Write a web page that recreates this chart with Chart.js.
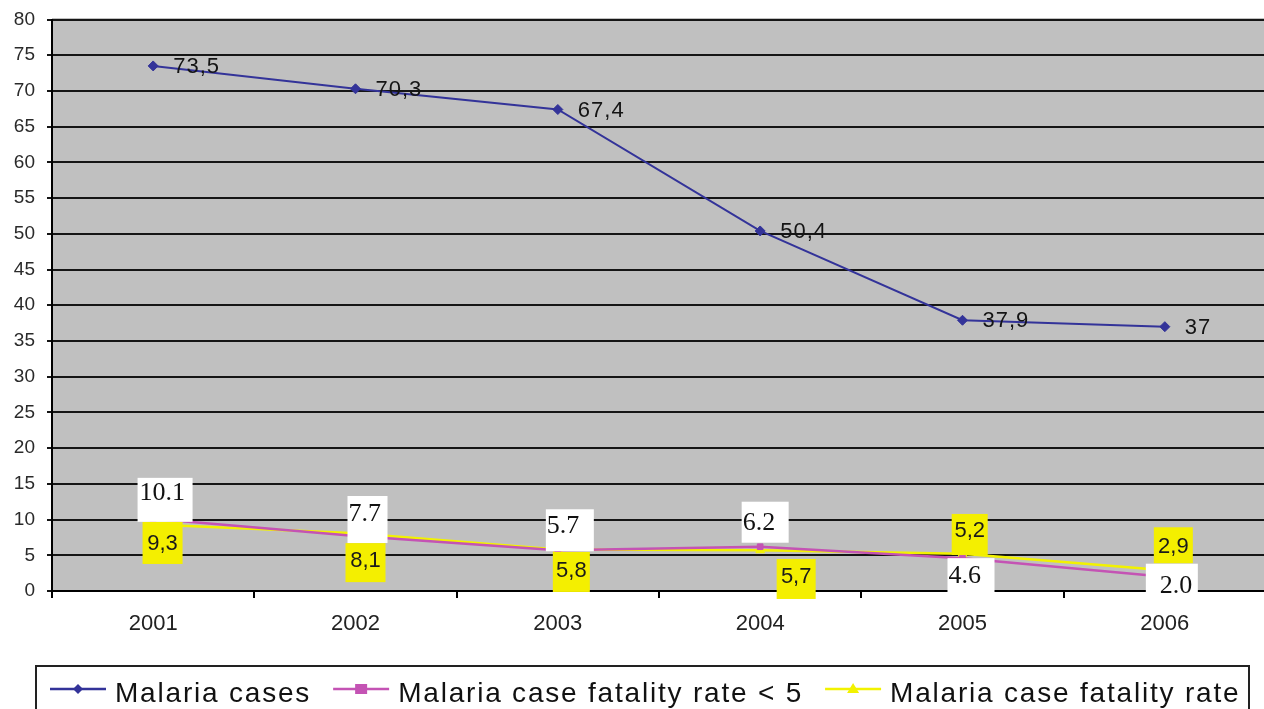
<!DOCTYPE html>
<html>
<head>
<meta charset="utf-8">
<script src="https://cdn.jsdelivr.net/npm/chart.js@4.4.1/dist/chart.umd.min.js"></script>
<style>
  html, body { margin: 0; padding: 0; background: #ffffff; overflow: hidden; }
  #wrap { width: 1272px; height: 709px; }
</style>
</head>
<body>
<div id="wrap"><canvas id="c" width="1272" height="709"></canvas></div>
<script>
// Malaria indicators, 2001-2006
const years = ['2001', '2002', '2003', '2004', '2005', '2006'];
const malariaCases = [73.5, 70.3, 67.4, 50.4, 37.9, 37];
const fatalityUnder5 = [10.1, 7.7, 5.7, 6.2, 4.6, 2.0];
const fatalityRate = [9.3, 8.1, 5.8, 5.7, 5.2, 2.9];
const yMin = 0, yMax = 80, yStep = 5;

const seriesNames = ['Malaria cases', 'Malaria case fatality rate < 5', 'Malaria case fatality rate'];
const BLUE = '#333399', PINK = '#c453b4', YELLOW = '#f2f200';

// Label placement relative to each point: [boxDx, boxDy, boxW, boxH, textDx, baselineDy]
const under5Placement = [
  [-15.6, -41, 55, 44, -13.6, -19],
  [-8, -40, 40, 47, -7, -15],
  [-12, -41, 48, 42, -11, -17],
  [-18.5, -45, 47, 41, -17.5, -17],
  [-15, 0, 47, 42, -14, 25],
  [-19, -13, 52, 46, -5, 16]
];
// Boxes for the overall rate: [boxDx, boxDy, boxW, boxH, baselineDy]
const ratePlacement = [
  [-10.6, -2.6, 40, 42, 25],
  [-10, 10, 40, 39, 34],
  [-5, 2.4, 37, 40, 27.4],
  [16.5, 8.7, 39, 40, 32.7],
  [-10.8, -39.9, 36, 41, -17],
  [-11, -43, 39, 36, -17]
];

const fmtComma = v => String(v).replace('.', ',');
const fmtDot1 = v => v.toFixed(1);
const fmtComma1 = v => v.toFixed(1).replace('.', ',');

// Gray plotting area behind the grid
const plotBackground = {
  id: 'plotBackground',
  beforeDraw(chart) {
    const { ctx, chartArea: a } = chart;
    ctx.save();
    ctx.fillStyle = '#c0c0c0';
    ctx.fillRect(a.left, a.top - 1.5, a.right - a.left, a.bottom - a.top + 1.5);
    ctx.restore();
  }
};

// Value labels next to the points
const valueLabels = {
  id: 'valueLabels',
  afterDraw(chart) {
    const ctx = chart.ctx;
    ctx.save();

    // Malaria cases: plain text to the right of each marker
    const m0 = chart.getDatasetMeta(0);
    ctx.font = '22px "Liberation Sans", Arial, sans-serif';
    ctx.letterSpacing = '1px';
    ctx.fillStyle = '#141414';
    ctx.textAlign = 'left';
    ctx.textBaseline = 'middle';
    m0.data.forEach((pt, i) => {
      ctx.fillText(fmtComma(malariaCases[i]), pt.x + 20, pt.y + 1);
    });

    // Overall fatality rate: yellow boxes
    const m2 = chart.getDatasetMeta(2);
    ctx.font = '22px "Liberation Sans", Arial, sans-serif';
    ctx.letterSpacing = '0px';
    ctx.textAlign = 'center';
    ctx.textBaseline = 'alphabetic';
    m2.data.forEach((pt, i) => {
      const [bx, by, bw, bh, ty] = ratePlacement[i];
      ctx.fillStyle = '#f4ef00';
      ctx.fillRect(pt.x + bx, pt.y + by, bw, bh);
      ctx.fillStyle = '#1a1a1a';
      ctx.fillText(fmtComma1(fatalityRate[i]), pt.x + bx + bw / 2, pt.y + ty);
    });

    // Under-5 fatality rate: white boxes, serif text
    const m1 = chart.getDatasetMeta(1);
    ctx.font = '26px "Liberation Serif", "Times New Roman", serif';
    ctx.textAlign = 'left';
    m1.data.forEach((pt, i) => {
      const [bx, by, bw, bh, tx, ty] = under5Placement[i];
      ctx.fillStyle = '#ffffff';
      ctx.fillRect(pt.x + bx, pt.y + by, bw, bh);
      ctx.fillStyle = '#111111';
      ctx.fillText(fmtDot1(fatalityUnder5[i]), pt.x + tx, pt.y + ty);
    });
    ctx.restore();
  }
};

// Boxed legend along the bottom edge
const boxedLegend = {
  id: 'boxedLegend',
  afterDraw(chart) {
    const ctx = chart.ctx;
    const symY = 689, baseY = 702;
    ctx.save();
    ctx.strokeStyle = '#222222';
    ctx.lineWidth = 2;
    ctx.strokeRect(36, 666, 1249 - 36, 60);

    ctx.font = '28px "Liberation Sans", Arial, sans-serif';
    ctx.letterSpacing = '1.8px';
    ctx.textBaseline = 'alphabetic';
    ctx.textAlign = 'left';
    let x = 50;
    chart.data.datasets.forEach(ds => {
      const w = 56;
      ctx.strokeStyle = ds.borderColor;
      ctx.lineWidth = 2.5;
      ctx.beginPath();
      ctx.moveTo(x, symY);
      ctx.lineTo(x + w, symY);
      ctx.stroke();
      const cx = x + w / 2;
      ctx.fillStyle = ds.borderColor;
      ctx.beginPath();
      if (ds.pointStyle === 'rectRot') {
        ctx.moveTo(cx, symY - 5); ctx.lineTo(cx + 5, symY);
        ctx.lineTo(cx, symY + 5); ctx.lineTo(cx - 5, symY);
      } else if (ds.pointStyle === 'rect') {
        ctx.rect(cx - 6, symY - 5, 12, 10);
      } else {
        ctx.moveTo(cx, symY - 6); ctx.lineTo(cx + 6, symY + 4); ctx.lineTo(cx - 6, symY + 4);
      }
      ctx.closePath();
      ctx.fill();
      ctx.fillStyle = '#111111';
      ctx.fillText(ds.label, x + w + 9, baseY);
      x += w + 9 + ctx.measureText(ds.label).width + 22;
    });
    ctx.restore();
  }
};

new Chart(document.getElementById('c'), {
  type: 'line',
  data: {
    labels: years,
    datasets: [
      {
        label: seriesNames[0], data: malariaCases,
        borderColor: BLUE, backgroundColor: BLUE, borderWidth: 2,
        pointStyle: 'rectRot', pointRadius: 5, pointBorderWidth: 1
      },
      {
        label: seriesNames[1], data: fatalityUnder5,
        borderColor: PINK, backgroundColor: PINK, borderWidth: 2.5,
        pointStyle: 'rect', pointRadius: 4, pointBorderWidth: 1
      },
      {
        label: seriesNames[2], data: fatalityRate,
        borderColor: YELLOW, backgroundColor: YELLOW, borderWidth: 2.5,
        pointStyle: 'triangle', pointRadius: 5, pointBorderWidth: 1
      }
    ]
  },
  options: {
    responsive: false,
    animation: false,
    devicePixelRatio: 1,
    layout: { padding: { top: 19.5, left: 0, right: 0, bottom: 0 } },
    plugins: { legend: { display: false }, tooltip: { enabled: false } },
    elements: { line: { tension: 0 } },
    scales: {
      x: {
        offset: true,
        afterFit: s => { s.height = 118; s.paddingLeft = 0; s.paddingRight = 0; },
        grid: { offset: true, drawOnChartArea: false, drawTicks: true, tickLength: 7, color: '#000000', lineWidth: 2 },
        border: { display: true, color: '#000000', width: 2 },
        ticks: { color: '#222222', padding: 13, font: { family: '"Liberation Sans", Arial, sans-serif', size: 22 }, maxRotation: 0 }
      },
      y: {
        min: yMin, max: yMax,
        afterFit: s => { s.width = 52; s.paddingTop = 0; s.paddingBottom = 0; },
        grid: { color: '#151515', lineWidth: 2, tickLength: 5, drawTicks: true },
        border: { display: true, color: '#000000', width: 2 },
        ticks: { stepSize: yStep, color: '#2a2a2a', padding: 12, font: { family: '"Liberation Sans", Arial, sans-serif', size: 19 } }
      }
    }
  },
  plugins: [plotBackground, valueLabels, boxedLegend]
});
</script>
</body>
</html>
